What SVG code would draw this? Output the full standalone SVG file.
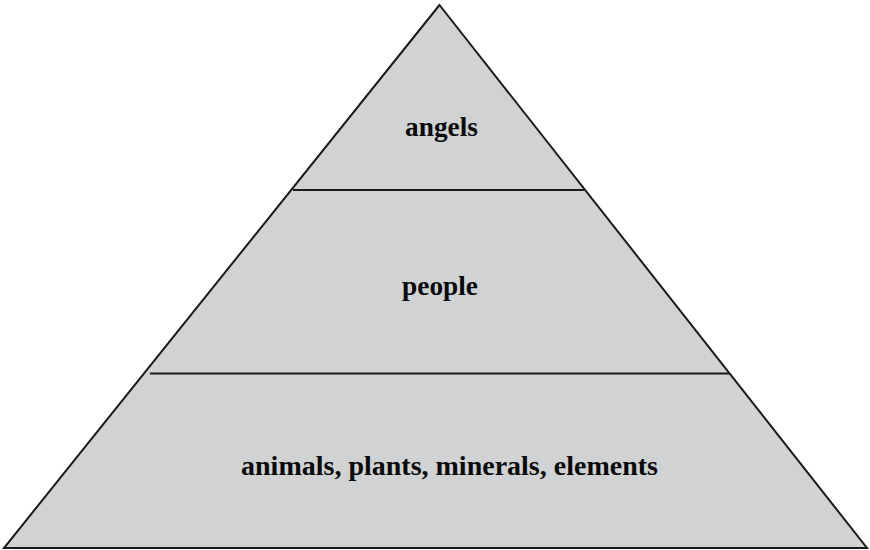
<svg xmlns="http://www.w3.org/2000/svg" width="870" height="550" viewBox="0 0 870 550">
<style>
.tier{fill:#d1d2d4;stroke:none}
.edge{fill:none;stroke:#1a1a1a;stroke-width:2}
.lbl{font-family:"Liberation Serif","Times New Roman",serif;font-weight:bold;font-size:27.3px;fill:#0a0a0a;text-anchor:middle}
</style>
<rect width="870" height="550" fill="#ffffff"/>
<g id="pyramid">
<polygon class="tier" points="439.5,5 4,548 867,548"/>
</g>
<g id="connectors">
<polygon class="edge" points="439.5,5 4,548 867,548"/>
<line class="edge" x1="293" y1="190" x2="586" y2="190"/>
<line class="edge" x1="150" y1="373.5" x2="729" y2="373.5"/>
</g>
<g id="node-angels"><text class="lbl" x="441.5" y="136">angels</text></g>
<g id="node-people"><text class="lbl" x="440" y="295">people</text></g>
<g id="node-base"><text class="lbl" x="449.5" y="475" style="font-size:28px">animals, plants, minerals, elements</text></g>
</svg>
